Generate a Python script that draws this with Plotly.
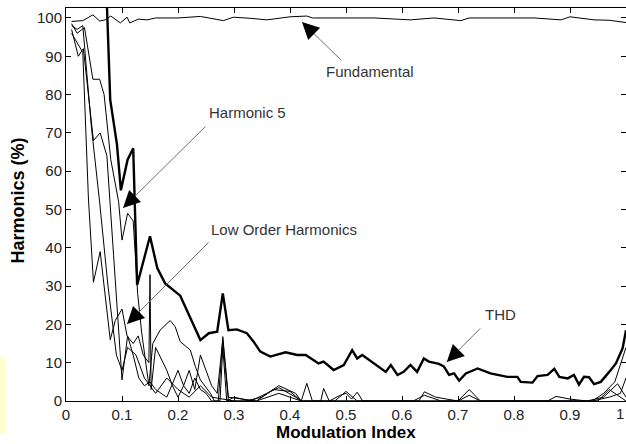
import math
import plotly.graph_objects as go

# ---------------- data ----------------
fund_x = [0.01, 0.03, 0.048, 0.06, 0.07, 0.08, 0.097, 0.109, 0.114, 0.129, 0.145, 0.16, 0.2, 0.24,
          0.281, 0.299, 0.33, 0.359, 0.4, 0.43, 0.44, 0.5, 0.55, 0.615, 0.657, 0.705, 0.72, 0.78,
          0.836, 0.884, 0.9, 0.943, 0.97, 1.0]
fund_y = [99.1, 99.3, 100.8, 99.2, 99.5, 100.5, 98.7, 100.2, 98.7, 99.7, 99.5, 100.0, 100.0, 100.4,
          99.3, 100.2, 99.9, 99.5, 100.3, 100.5, 100.0, 100.0, 100.0, 99.5, 100.0, 99.3, 100.0, 100.0,
          100.0, 99.5, 100.3, 99.5, 99.4, 98.8]

thd_x = [0.071, 0.079, 0.091, 0.098, 0.11, 0.12, 0.127, 0.15, 0.163, 0.177, 0.204, 0.24, 0.255, 0.27,
         0.28, 0.29, 0.305, 0.323, 0.335, 0.347, 0.365, 0.392, 0.413, 0.428, 0.451, 0.46, 0.478, 0.496,
         0.511, 0.52, 0.529, 0.55, 0.571, 0.58, 0.592, 0.603, 0.615, 0.627, 0.639, 0.648, 0.666, 0.675,
         0.684, 0.693, 0.702, 0.714, 0.735, 0.758, 0.788, 0.806, 0.812, 0.833, 0.842, 0.86, 0.872,
         0.881, 0.896, 0.907, 0.916, 0.925, 0.934, 0.943, 0.955, 0.97, 0.982, 0.994, 1.0]
thd_y = [112, 78.6, 67, 55, 63, 66, 30.3, 43, 34.7, 30.7, 27.5, 15.9, 17.7, 18.1,
         28.1, 18.5, 18.7, 17.7, 15.5, 12.9, 11.6, 12.7, 12.0, 12.0, 9.8, 10.3, 8.1, 9.4,
         13.3, 11.1, 12.0, 9.8, 7.6, 9.4, 6.8, 7.6, 9.4, 7.6, 11.1, 10.3, 9.7, 9.0,
         6.8, 7.2, 5.3, 7.2, 8.5, 7.2, 6.3, 6.3, 5.0, 4.8, 6.5, 6.8, 8.4,
         6.3, 5.9, 6.8, 4.3, 6.3, 6.2, 4.4, 5.0, 7.6, 9.8, 13.8, 18.5]

h5_x = [0.01, 0.02, 0.033, 0.048, 0.06, 0.068, 0.08, 0.094, 0.1, 0.11, 0.12, 0.128, 0.135, 0.14,
        0.148, 0.155, 0.168, 0.186, 0.195, 0.204, 0.222, 0.231, 0.24, 0.258, 0.265, 0.272, 0.28,
        0.29, 0.34, 0.37, 0.4, 0.42, 0.63, 0.64, 0.66, 0.7, 0.72, 0.74, 0.94, 0.96, 0.98, 1.0]
h5_y = [98.5, 96.0, 97.5, 84.0, 84.0, 80.0, 63.0, 52.0, 42.0, 49.0, 47.0, 28.0, 18.0, 12.0,
        4.0, 15.0, 18.5, 21.0, 19.4, 15.5, 13.3, 9.0, 5.5, 2.0, 0.0, 0.0, 16.8,
        1.0, 0.0, 3.0, 2.5, 0.0, 0.0, 2.4, 1.0, 0.0, 3.0, 0.0, 0.0, 2.0, 5.0, 14.0]

lo2_x = [0.01, 0.022, 0.031, 0.049, 0.061, 0.073, 0.085, 0.093, 0.1, 0.11, 0.12, 0.13, 0.14, 0.15,
         0.16, 0.18, 0.2, 0.21, 0.22, 0.23, 0.24, 0.25, 0.26, 0.275, 0.28, 0.287, 0.3, 0.33, 0.36,
         0.38, 0.41, 0.42, 0.43, 0.44, 0.455, 0.46, 0.47, 0.49, 0.5, 0.51, 0.52, 0.53, 0.86, 0.875,
         0.9, 0.93, 0.96, 0.985, 1.0]
lo2_y = [97.0, 90.0, 92.0, 68.0, 70.0, 64.0, 38.0, 20.0, 5.5, 17.0, 12.0, 6.0, 4.0, 5.0,
         3.0, 1.0, 8.0, 4.0, 2.0, 6.0, 3.0, 2.0, 0.0, 0.0, 14.0, 0.0, 1.0, 0.0, 2.0,
         3.5, 1.0, 0.0, 4.6, 0.0, 0.0, 3.3, 0.0, 1.5, 2.0, 0.5, 2.3, 0.0, 0.0, 1.2,
         0.5, 0.0, 1.0, 4.5, 1.0]

lo3_x = [0.01, 0.03, 0.04, 0.049, 0.061, 0.079, 0.088, 0.1, 0.109, 0.12, 0.129, 0.138, 0.148, 0.15,
         0.152, 0.16, 0.17, 0.18, 0.19, 0.2, 0.21, 0.22, 0.23, 0.24, 0.25, 0.26, 0.27, 0.28, 0.29,
         0.32, 0.35, 0.38, 0.41, 0.42, 0.48, 0.5, 0.52, 0.62, 0.64, 0.67, 0.7, 0.72, 0.74, 0.94,
         0.97, 0.99, 1.0]
lo3_y = [96.0, 91.0, 53.0, 31.0, 39.0, 16.0, 21.0, 24.0, 17.0, 15.0, 17.0, 12.0, 10.0, 33.0,
         3.0, 14.0, 11.0, 8.0, 4.0, 1.0, 4.0, 8.0, 3.0, 12.0, 8.0, 4.0, 2.0, 16.0, 0.0,
         0.0, 1.0, 4.0, 2.0, 0.0, 0.0, 2.5, 0.0, 0.0, 1.5, 0.0, 0.0, 1.5, 0.0, 0.0,
         1.0, 2.0, 6.0]

lo4_x = [0.01, 0.02, 0.03, 0.045, 0.06, 0.075, 0.09, 0.1, 0.11, 0.125, 0.14, 0.16, 0.18, 0.2,
         0.22, 0.24, 0.26, 0.3, 0.34, 0.38, 0.42, 0.55, 0.6, 0.95, 0.97, 1.0]
lo4_y = [98.0, 97.0, 98.0, 72.0, 52.0, 30.0, 12.0, 8.0, 14.0, 12.0, 6.0, 2.0, 6.0, 3.0,
         1.0, 4.0, 1.0, 0.0, 0.0, 2.0, 0.0, 0.0, 0.0, 0.0, 3.0, 0.0]

x_ticks = [0, 0.1, 0.2, 0.3, 0.4, 0.5, 0.6, 0.7, 0.8, 0.9, 1]
x_tick_text = ["0", "0.1", "0.2", "0.3", "0.4", "0.5", "0.6", "0.7", "0.8", "0.9", "1"]
y_ticks = [0, 10, 20, 30, 40, 50, 60, 70, 80, 90, 100]

# ---------------- figure ----------------
fig = go.Figure()
thin = dict(color="black", width=1)
for xs, ys in [(fund_x, fund_y), (h5_x, h5_y), (lo2_x, lo2_y), (lo3_x, lo3_y), (lo4_x, lo4_y)]:
    fig.add_trace(go.Scatter(x=xs, y=ys, mode="lines", line=thin, showlegend=False, hoverinfo="skip"))
fig.add_trace(go.Scatter(x=thd_x, y=thd_y, mode="lines", line=dict(color="black", width=2.4),
                         showlegend=False, hoverinfo="skip"))

font_txt = dict(family="Liberation Sans, Arial, sans-serif", size=15, color="#333333")

# arrows: (tip_x, tip_y, ax, ay, label, label_x, label_y)
arrows = [
    (0.4214, 98.95, 41, 40, "Fundamental", 0.4607, 86.0),
    (0.1018, 50.4, 84, -83, "Harmonic 5", 0.2518, 75.2),
    (0.109, 20.1, 83, -83, "Low Order Harmonics", 0.2554, 44.9),
    (0.680, 10.2, 35, -35, "THD", 0.7446, 22.5),
]
for tx, ty, ax, ay, lab, lx, ly in arrows:
    fig.add_annotation(x=tx, y=ty, ax=ax, ay=ay, text="", showarrow=True, arrowhead=0,
                       arrowwidth=1, arrowcolor="#707070", xref="x", yref="y")
    L = math.hypot(ax, ay)
    fig.add_annotation(x=tx, y=ty, ax=ax / L * 13, ay=ay / L * 13, text="", showarrow=True,
                       arrowhead=2, arrowsize=1.7, arrowwidth=2, arrowcolor="black", xref="x", yref="y")
    fig.add_annotation(x=lx, y=ly, text=lab, showarrow=False, xanchor="left", yanchor="middle",
                       font=font_txt, xref="x", yref="y")

tickfont = dict(family="Liberation Sans, Arial, sans-serif", size=15, color="#222222")

# the last x tick label sits at the picture edge; keep it fully inside
fig.add_annotation(x=x_ticks[-1], y=-0.032, xref="x", yref="paper", text=x_tick_text[-1],
                   showarrow=False, xanchor="right", yanchor="middle", font=tickfont)

# axis titles
title_font = dict(family="Liberation Sans, Arial, sans-serif", size=17, color="black", weight="bold")
fig.add_annotation(x=0.5, y=-0.079, xref="paper", yref="paper", text="Modulation Index",
                   showarrow=False, xanchor="center", yanchor="middle", font=title_font)
fig.add_annotation(x=-0.0857, y=0.51, xref="paper", yref="paper", text="Harmonics (%)",
                   showarrow=False, textangle=-90, xanchor="center", yanchor="middle",
                   font=dict(family="Liberation Sans, Arial, sans-serif", size=18, color="black",
                             weight="bold"))

# pale yellow strip at the lower-left edge of the picture
fig.add_shape(type="rect", xref="paper", yref="paper", x0=-0.1179, x1=-0.109, y0=-0.0814, y1=0.112,
              fillcolor="#FFFFCC", line=dict(width=0), layer="below")

fig.update_xaxes(range=[0, 1], tickvals=x_ticks, ticktext=x_tick_text, ticks="inside", ticklen=5,
                 tickcolor="black", showline=True, linecolor="black", linewidth=1, mirror="ticks",
                 showgrid=False, zeroline=False, tickfont=tickfont, automargin=False)
fig.update_yaxes(range=[0, 102.6], tickvals=y_ticks, ticks="inside", ticklen=5, tickcolor="black",
                 showline=True, linecolor="black", linewidth=1, mirror="ticks", showgrid=False,
                 zeroline=False, tickfont=tickfont, automargin=False)
fig.update_layout(width=626, height=444, margin=dict(l=66, r=0, t=8, b=43),
                  paper_bgcolor="white", plot_bgcolor="white", showlegend=False)

fig.write_html("out.html", config={"displayModeBar": False},
               post_script="document.body.style.margin='0';document.body.style.overflow='hidden';")
